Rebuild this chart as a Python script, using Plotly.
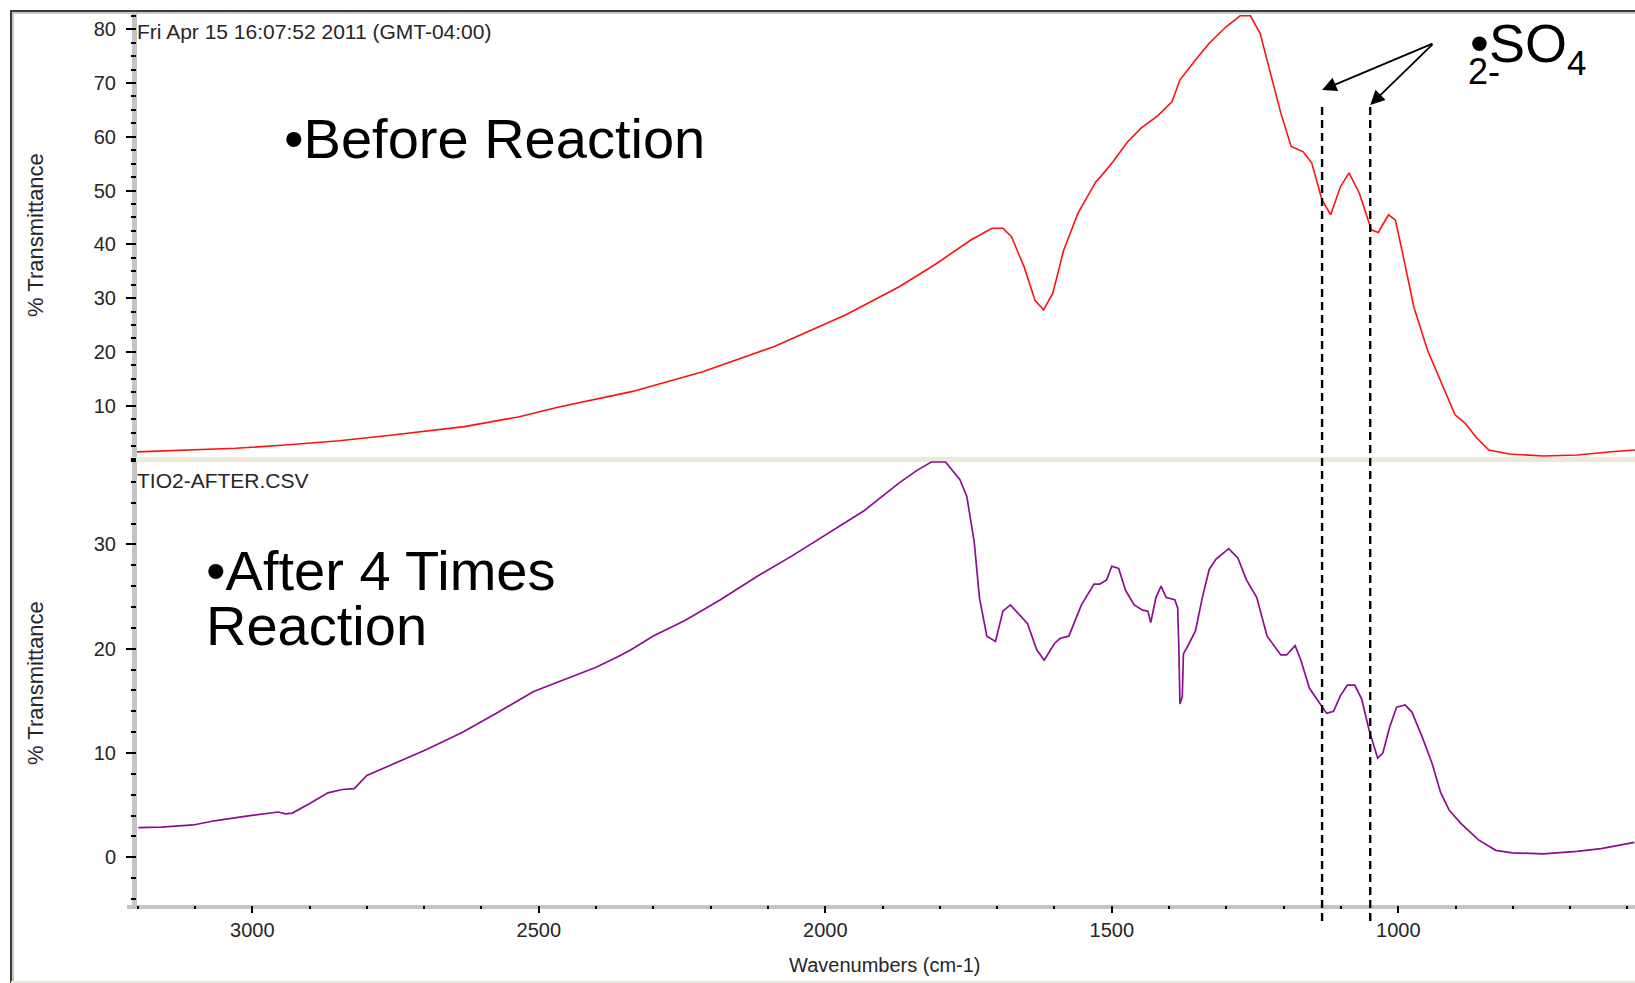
import plotly.graph_objects as go

# ---- FTIR spectra of the TiO2 sample (wavenumber in cm-1, % transmittance) ----
before_wavenumber = [
    3203, 3104, 3029, 2942, 2848, 2755, 2630, 2536, 2463, 2338, 2214, 2089, 1964,
    1871, 1809, 1746, 1709, 1690, 1675, 1653, 1634, 1619, 1603, 1584, 1559, 1528,
    1520, 1497, 1473, 1449, 1419, 1395, 1381, 1354, 1330, 1300, 1276, 1258, 1241,
    1223, 1205, 1187, 1166, 1151, 1133, 1118, 1101, 1086, 1068, 1047, 1035, 1017,
    1005, 990, 973, 949, 925, 901, 883, 865, 842, 806, 746, 687, 628, 587,
]
before_transmittance = [
    1.4, 1.75, 2.06, 2.68, 3.48, 4.54, 6.1, 7.9, 9.8, 12.6, 16.3, 21.0, 26.9,
    32.1, 36.2, 40.8, 43.0, 43.0, 41.4, 35.8, 29.6, 27.8, 30.9, 38.9, 45.8, 51.6,
    52.5, 55.5, 59.0, 61.6, 64.0, 66.5, 70.6, 74.3, 77.4, 80.5, 82.5, 82.5, 79.2,
    71.8, 64.4, 58.2, 57.2, 55.1, 48.2, 45.5, 50.7, 53.3, 49.5, 42.7, 42.2, 45.5,
    44.5, 37.1, 28.4, 20.3, 14.2, 8.3, 6.7, 4.2, 1.75, 1.0, 0.63, 0.82, 1.43, 1.75,
]

after_wavenumber = [
    3199, 3159, 3103, 3066, 3004, 2955, 2942, 2930, 2899, 2868, 2843, 2822, 2800,
    2757, 2695, 2633, 2571, 2509, 2463, 2401, 2363, 2339, 2301, 2245, 2183, 2120,
    2058, 2000, 1933, 1871, 1840, 1815, 1790, 1765, 1753, 1740, 1731, 1718, 1703,
    1690, 1677, 1647, 1631, 1618, 1600, 1590, 1575, 1553, 1531, 1521, 1509, 1500,
    1488, 1476, 1461, 1446, 1437, 1432, 1423, 1414, 1405, 1390, 1385, 1383, 1381,
    1377, 1375, 1366, 1354, 1342, 1330, 1318, 1296, 1280, 1265, 1247, 1229, 1205,
    1195, 1180, 1170, 1155, 1134, 1125, 1113, 1101, 1089, 1076, 1064, 1051, 1036,
    1027, 1015, 1003, 988, 976, 958, 941, 926, 911, 890, 860, 830, 801, 747, 688,
    646, 616, 588,
]
after_transmittance = [
    2.84, 2.9, 3.1, 3.5, 4.0, 4.34, 4.17, 4.24, 5.18, 6.18, 6.5, 6.58, 7.85,
    8.85, 10.35, 12.0, 13.9, 15.9, 16.9, 18.2, 19.2, 19.9, 21.2, 22.7, 24.7, 26.9,
    28.9, 30.9, 33.2, 35.9, 37.1, 37.9, 37.9, 36.2, 34.6, 30.2, 24.9, 21.2, 20.7,
    23.6, 24.2, 22.4, 19.9, 18.9, 20.5, 21.0, 21.2, 24.2, 26.2, 26.2, 26.6, 27.9,
    27.7, 25.6, 24.2, 23.7, 23.6, 22.5, 24.9, 26.0, 24.9, 24.7, 23.9, 20.2, 14.7,
    15.4, 19.5, 20.4, 21.7, 24.9, 27.6, 28.6, 29.6, 28.7, 26.6, 24.9, 21.2, 19.4,
    19.4, 20.3, 18.9, 16.2, 14.5, 13.8, 14.0, 15.5, 16.5, 16.5, 15.2, 12.2, 9.5,
    10.0, 12.5, 14.4, 14.6, 13.9, 11.5, 9.0, 6.2, 4.5, 3.2, 1.67, 0.67, 0.43, 0.33,
    0.57, 0.83, 1.17, 1.43,
]

# sulfate (SO4 2-) band positions marked with dashed guides
sulfate_bands = [1133, 1049]

x_tick_values = [3000, 2500, 2000, 1500, 1000]
top_y_tick_values = [10, 20, 30, 40, 50, 60, 70, 80]
bottom_y_tick_values = [0, 10, 20, 30]

timestamp_label = "Fri Apr 15 16:07:52 2011 (GMT-04:00)"
file_label = "TIO2-AFTER.CSV"
y_title = "% Transmittance"
x_title = "Wavenumbers (cm-1)"

# ---- page geometry (pixels) ----
W, H = 1635, 983


def px(x):
    return x / W


def py(y):
    return (H - y) / H


FONT = "Liberation Sans, Arial, sans-serif"
TEXT_GREY = "#262626"

plot_left = 137          # right edge of the grey y-axis band
x_range = [3201.2, 586.9]

top_zero_px, top_scale = 459.4, 5.377       # px at 0 %T, px per %T
bot_zero_px, bot_scale = 857.3, 10.43
top_plot_top, top_plot_bottom = 12, top_zero_px
bot_plot_top, bot_plot_bottom = 461, 905

fig = go.Figure()

fig.add_trace(go.Scatter(
    x=before_wavenumber, y=before_transmittance, mode="lines",
    line=dict(color="#ff1010", width=1.6), xaxis="x2", yaxis="y2",
    showlegend=False, hoverinfo="skip",
))
fig.add_trace(go.Scatter(
    x=after_wavenumber, y=after_transmittance, mode="lines",
    line=dict(color="#8a0f8e", width=1.7), xaxis="x", yaxis="y",
    showlegend=False, hoverinfo="skip",
))

common_y = dict(
    showgrid=False, zeroline=False, showline=False,
    ticks="outside", ticklen=10, tickwidth=1.5, tickcolor="#000000",
    tickfont=dict(family=FONT, size=20, color=TEXT_GREY),
    ticklabelstandoff=6, fixedrange=True,
)

fig.update_layout(
    width=W, height=H,
    margin=dict(l=0, r=0, t=0, b=0),
    paper_bgcolor="#ffffff", plot_bgcolor="#ffffff",
    showlegend=False,
    xaxis=dict(
        domain=[px(plot_left), 1.0], range=x_range, anchor="y",
        showgrid=False, zeroline=False, showline=False,
        tickmode="array", tickvals=x_tick_values,
        ticks="outside", ticklen=7, tickwidth=1.5, tickcolor="#000000",
        tickfont=dict(family=FONT, size=20, color=TEXT_GREY),
        minor=dict(dtick=100, tick0=0, ticks="outside", ticklen=3,
                   tickwidth=2, tickcolor="#000000"),
        fixedrange=True,
    ),
    xaxis2=dict(
        domain=[px(plot_left), 1.0], range=x_range, anchor="y2", matches="x",
        showgrid=False, zeroline=False, showline=False,
        showticklabels=False, ticks="", fixedrange=True,
    ),
    yaxis=dict(
        domain=[py(bot_plot_bottom), py(bot_plot_top)],
        range=[(bot_zero_px - bot_plot_bottom) / bot_scale,
               (bot_zero_px - bot_plot_top) / bot_scale],
        anchor="x", tickmode="array", tickvals=bottom_y_tick_values,
        minor=dict(dtick=2, tick0=0, ticks="outside", ticklen=5,
                   tickwidth=2, tickcolor="#000000"),
        **common_y,
    ),
    yaxis2=dict(
        domain=[py(top_plot_bottom), py(top_plot_top)],
        range=[0, (top_zero_px - top_plot_top) / top_scale],
        anchor="x2", tickmode="array", tickvals=top_y_tick_values,
        minor=dict(dtick=2.5, tick0=0, ticks="outside", ticklen=5,
                   tickwidth=2, tickcolor="#000000"),
        **common_y,
    ),
)

shapes = []
# window frame
shapes.append(dict(type="line", xref="paper", yref="paper",
                   x0=px(10), x1=1.0, y0=py(11), y1=py(11),
                   line=dict(color="#3a3a3a", width=2), layer="below"))
shapes.append(dict(type="line", xref="paper", yref="paper",
                   x0=px(11), x1=1.0, y0=py(13), y1=py(13),
                   line=dict(color="#b8b8b0", width=1.5), layer="below"))
shapes.append(dict(type="line", xref="paper", yref="paper",
                   x0=px(11), x1=px(11), y0=py(11), y1=0,
                   line=dict(color="#3a3a3a", width=2), layer="below"))
shapes.append(dict(type="line", xref="paper", yref="paper",
                   x0=px(13), x1=px(13), y0=py(13), y1=0,
                   line=dict(color="#b8b8b0", width=1.5), layer="below"))
shapes.append(dict(type="line", xref="paper", yref="paper",
                   x0=px(11), x1=1.0, y0=py(982), y1=py(982),
                   line=dict(color="#ece9d8", width=2), layer="below"))
# grey axis bands and the beige separator between the two panes
shapes.append(dict(type="rect", xref="paper", yref="paper",
                   x0=px(132), x1=px(137), y0=py(909), y1=py(12),
                   fillcolor="#c4c4c4", line=dict(width=0), layer="below"))
shapes.append(dict(type="rect", xref="paper", yref="paper",
                   x0=px(127), x1=1.0, y0=py(909), y1=py(905),
                   fillcolor="#c4c4c4", line=dict(width=0), layer="below"))
shapes.append(dict(type="rect", xref="paper", yref="paper",
                   x0=px(130), x1=1.0, y0=py(462), y1=py(457),
                   fillcolor="#ece9d8", line=dict(width=0), layer="below"))
# dashed guides through the sulfate bands
for wn in sulfate_bands:
    shapes.append(dict(type="line", xref="x", yref="paper",
                       x0=wn, x1=wn, y0=py(107), y1=py(922),
                       line=dict(color="#000000", width=2.4, dash="8px,5px"),
                       layer="above"))
fig.update_layout(shapes=shapes)

annotations = []


def text(x, y, s, size, color="#000000", xanchor="left", yanchor="middle",
         angle=0):
    annotations.append(dict(
        x=px(x), y=py(y), xref="paper", yref="paper", text=s,
        showarrow=False, xanchor=xanchor, yanchor=yanchor, textangle=angle,
        font=dict(family=FONT, size=size, color=color), borderpad=0,
    ))


text(136, 31, timestamp_label, 21, TEXT_GREY)
text(136, 481, file_label, 21, TEXT_GREY)
text(35, 235, y_title, 22, TEXT_GREY, xanchor="center", angle=-90)
text(35, 683, y_title, 22, TEXT_GREY, xanchor="center", angle=-90)
text(885, 965, x_title, 20, TEXT_GREY, xanchor="center")

text(283, 138, "•Before Reaction", 56)
text(205, 570, "•After 4 Times", 56)
text(205, 625, "Reaction", 56)

text(1469, 43, "•SO", 54)
text(1566, 63, "4", 35)
text(1467, 72, "2-", 36)

# arrows from the SO4 label down to the two dashed guides
arrow_tail = (1434, 43)
arrow_tips_y = [90, 105]
for wn, tip_y in zip(sulfate_bands, arrow_tips_y):
    tip_x = 252.3 + (3000 - wn) * 0.573
    annotations.append(dict(
        x=wn, y=py(tip_y), xref="x", yref="paper", text="",
        showarrow=True, arrowhead=2, arrowsize=1.6, arrowwidth=1.8,
        arrowcolor="#000000", standoff=0,
        ax=arrow_tail[0] - tip_x, ay=arrow_tail[1] - tip_y,
        axref="pixel", ayref="pixel",
    ))

fig.update_layout(annotations=annotations)

fig.write_html("out.html")
